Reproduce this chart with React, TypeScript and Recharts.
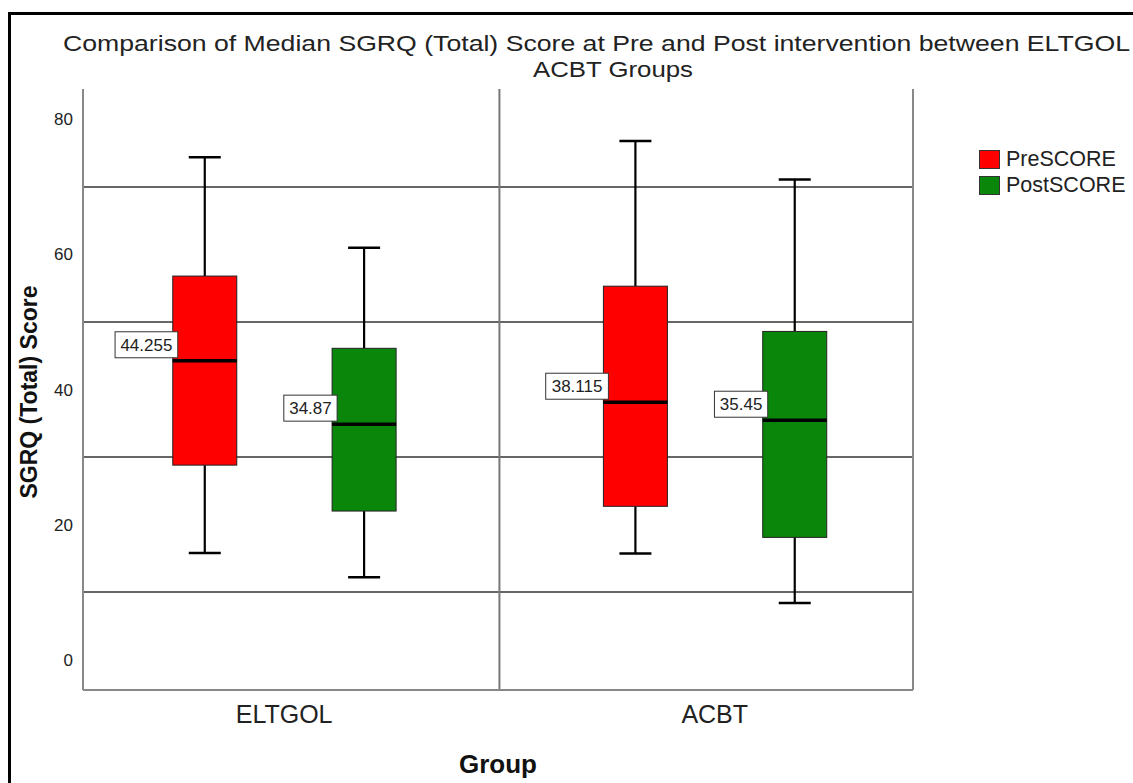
import React from 'react';
import {
  ComposedChart,
  Bar,
  XAxis,
  YAxis,
  CartesianGrid,
  ReferenceLine,
  Legend,
} from 'recharts';

const groups = ['ELTGOL', 'ACBT'];
const seriesNames = ['PreSCORE', 'PostSCORE'];

const preMin = [15.8, 15.7];
const preQ1 = [28.8, 22.7];
const preMedian = [44.255, 38.115];
const preQ3 = [56.8, 55.3];
const preMax = [74.4, 76.8];

const postMin = [12.2, 8.4];
const postQ1 = [22.0, 18.1];
const postMedian = [34.87, 35.45];
const postQ3 = [46.1, 48.6];
const postMax = [61.0, 71.1];

const yTicks = [0, 20, 40, 60, 80];
const gridValues = [10, 30, 50, 70];

const colors = ['#ff0000', '#0a870a'];
const font = 'Arial, "Liberation Sans", sans-serif';
const pairOffset = 0.185;
const xDomain: [number, number] = [0.533, 2.4604];

// one row per box, pre on the left of each group and post on the right
const boxes = groups.flatMap((g, i) => [
  { group: g, s: 0, pos: i + 1 - pairOffset, min: preMin[i], q1: preQ1[i], median: preMedian[i], q3: preQ3[i], max: preMax[i] },
  { group: g, s: 1, pos: i + 1 + pairOffset, min: postMin[i], q1: postQ1[i], median: postMedian[i], q3: postQ3[i], max: postMax[i] },
]);

const BoxShape = (props: any) => {
  const { x, y, width, height, payload } = props;
  const d = payload;
  const top = Math.min(y, y + height);
  const bottom = Math.max(y, y + height);
  const yOf = (v: number) => top + ((bottom - top) * (d.max - v)) / (d.max - d.min);
  const cx = x + width / 2;
  const cap = width / 2;
  const label = String(d.median);
  const digits = label.replace('.', '').length;
  const lw = digits * 9.4 + 4.7 + 11;
  const my = yOf(d.median);
  return (
    <g>
      <line x1={cx} x2={cx} y1={yOf(d.max)} y2={yOf(d.q3)} stroke="#000" strokeWidth={2.2} />
      <line x1={cx} x2={cx} y1={yOf(d.q1)} y2={yOf(d.min)} stroke="#000" strokeWidth={2.2} />
      <line x1={cx - cap / 2} x2={cx + cap / 2} y1={yOf(d.max)} y2={yOf(d.max)} stroke="#000" strokeWidth={2.5} />
      <line x1={cx - cap / 2} x2={cx + cap / 2} y1={yOf(d.min)} y2={yOf(d.min)} stroke="#000" strokeWidth={2.5} />
      <rect
        x={x}
        y={yOf(d.q3)}
        width={width}
        height={yOf(d.q1) - yOf(d.q3)}
        fill={colors[d.s]}
        stroke="#222"
        strokeWidth={1}
      />
      <line x1={x} x2={x + width} y1={my} y2={my} stroke="#000" strokeWidth={3.5} />
      <rect x={x + 5 - lw} y={my - 29} width={lw} height={26} fill="#fff" stroke="#333" strokeWidth={1} />
      <text
        x={x + 5 - lw / 2}
        y={my - 10}
        textAnchor="middle"
        fontFamily={font}
        fontSize={17}
        fill="#222"
      >
        {label}
      </text>
    </g>
  );
};

const renderLegend = () => (
  <div style={{ fontFamily: font, fontSize: 21.5, color: '#222' }}>
    {seriesNames.map((n, i) => (
      <div key={n} style={{ display: 'flex', alignItems: 'center', height: 25.5 }}>
        <span
          style={{
            display: 'inline-block',
            width: 21,
            height: 19,
            background: colors[i],
            border: '1.5px solid #333',
            boxSizing: 'border-box',
            marginRight: 6,
          }}
        />
        {n}
      </div>
    ))}
  </div>
);

export default function App() {
  return (
    <div
      style={{
        position: 'absolute',
        left: 0,
        top: 0,
        width: 1133,
        height: 783,
        overflow: 'hidden',
        background: '#fff',
      }}
    >
      <ComposedChart width={1133} height={783} data={boxes} margin={{ top: 89, right: 220, bottom: 0, left: 0 }}>
        <CartesianGrid horizontalValues={gridValues} vertical={false} stroke="#333" strokeWidth={1.5} />
        <XAxis
          type="number"
          dataKey="pos"
          domain={xDomain}
          allowDataOverflow
          ticks={[1, 2]}
          tickFormatter={(v: number) => groups[Math.round(v) - 1]}
          height={93}
          tickLine={false}
          tickSize={0}
          tickMargin={15}
          axisLine={{ stroke: '#888', strokeWidth: 2 }}
          tick={{ fill: '#222', fontSize: 25, fontFamily: font }}
        />
        <YAxis
          type="number"
          domain={[-4.5, 84.5]}
          allowDataOverflow
          ticks={yTicks}
          width={83}
          tickLine={false}
          tickSize={0}
          tickMargin={10}
          axisLine={{ stroke: '#888', strokeWidth: 2 }}
          tick={{ fill: '#222', fontSize: 17, fontFamily: font }}
        />
        <ReferenceLine x={1.5} stroke="#777" strokeWidth={2} />
        <ReferenceLine x={xDomain[1]} stroke="#888" strokeWidth={2} />
        <Bar
          dataKey={(d: any) => [d.min, d.max]}
          barSize={64}
          shape={BoxShape}
          isAnimationActive={false}
        />
        <Legend
          layout="vertical"
          align="center"
          verticalAlign="middle"
          content={renderLegend}
          wrapperStyle={{ left: 979, top: 147, width: 160 }}
        />
      </ComposedChart>
      <svg
        width={1133}
        height={783}
        style={{ position: 'absolute', left: 0, top: 0, pointerEvents: 'none' }}
      >
        <path d="M9.5 783 V13.5 H1133" fill="none" stroke="#000" strokeWidth={3} />
        <text x={63} y={51} fontFamily={font} fontSize={22} fill="#222" textLength={1067} lengthAdjust="spacingAndGlyphs">
          Comparison of Median SGRQ (Total)  Score at Pre and Post intervention between ELTGOL
        </text>
        <text x={533} y={77} fontFamily={font} fontSize={22} fill="#222" textLength={160} lengthAdjust="spacingAndGlyphs">
          ACBT Groups
        </text>
        <text
          x={37}
          y={392}
          transform="rotate(-90, 37, 392)"
          textAnchor="middle"
          fontFamily={font}
          fontSize={23}
          fontWeight="bold"
          fill="#111"
        >
          SGRQ (Total) Score
        </text>
        <text x={498} y={773} textAnchor="middle" fontFamily={font} fontSize={26} fontWeight="bold" fill="#111">
          Group
        </text>
      </svg>
    </div>
  );
}
